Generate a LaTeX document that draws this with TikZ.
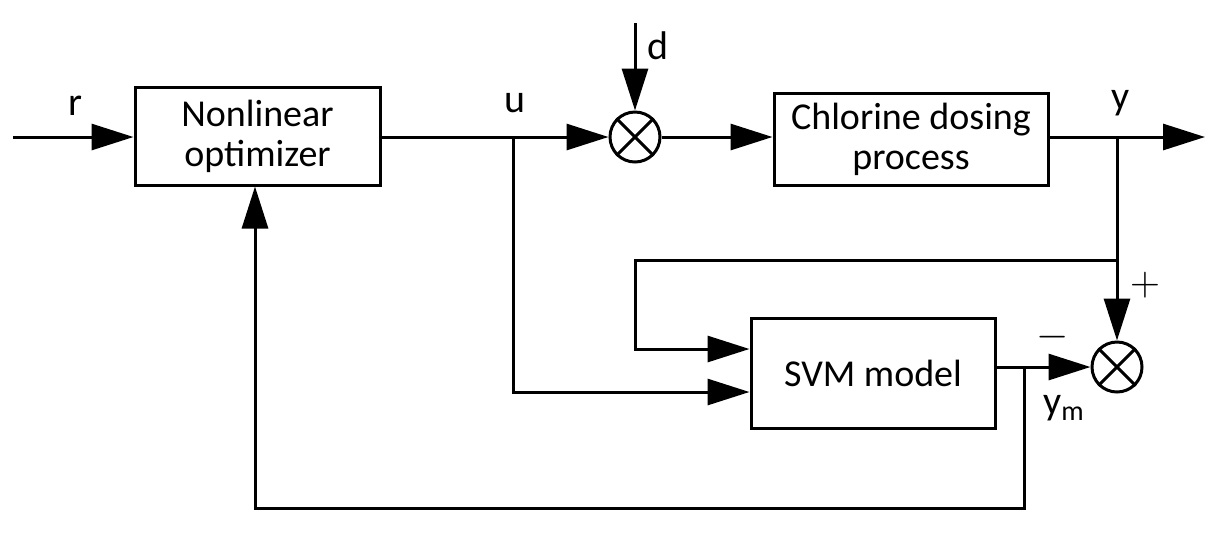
\documentclass[tikz,border=0pt]{standalone}
\usepackage{fontspec}
\setmainfont{Carlito}
\usetikzlibrary{arrows.meta,calc}
\begin{document}
\begin{tikzpicture}[x=0.5pt,y=-0.5pt,
  line width=1.5pt,
  blk/.style={draw,rectangle,align=center,inner sep=0pt,font=\fontsize{19}{19}\selectfont},
  sumj/.style={draw,circle,minimum size=25pt,inner sep=0pt},
  sig/.style={-{Triangle[length=21pt,width=13pt]}},
  lbl/.style={font=\fontsize{20}{20}\selectfont,inner sep=0pt},
  sgn/.style={inner sep=0pt,font=\fontsize{21}{21}\selectfont}
]
\useasboundingbox (0,0) rectangle (1221,538);
% blocks
\node[blk,minimum width=122.5pt,minimum height=49pt] (opt) at (257.5,136) {Nonlinear\\[1pt]optimizer};
\node[blk,minimum width=137pt,minimum height=46pt] (chl) at (911,139) {Chlorine dosing\\[1pt]process};
\node[blk,minimum width=122pt,minimum height=55pt] (svm) at (873,373) {SVM model};
% junctions
\node[sumj] (j1) at (635,137) {};
\node[sumj] (j2) at (1117,367) {};
\draw (j1.north west) -- (j1.south east) (j1.north east) -- (j1.south west);
\draw (j2.north west) -- (j2.south east) (j2.north east) -- (j2.south west);
% coordinates
\coordinate (rin) at (13,137);
\coordinate (din) at (635,23);
\coordinate (yout) at (1205,137);
\coordinate (ub) at (513,137);
\coordinate (yb) at (1117,137);
\coordinate (yb2) at (1117,260);
\coordinate (lp) at (635,260);
\coordinate (ymb) at (1024,367);
\coordinate (fb) at (1024,508);
\coordinate (fb2) at (255,508);
% connectors
\draw[sig] (rin) -- (opt.west |- rin);
\draw (opt.east |- ub) -- (ub);
\draw[sig] (ub) -- (j1.west);
\draw[sig] (din) -- (j1.north);
\draw[sig] (j1.east) -- (chl.west |- j1);
\draw (chl.east |- yb) -- (yb);
\draw[sig] (yb) -- (yout);
\draw (yb) -- (yb2);
\draw[sig] (yb2) -- (j2.north);
\draw[sig] (yb2) -- (lp) -- (lp |- 0,349) -- (svm.west |- 0,349);
\draw[sig] (ub) -- (ub |- 0,392) -- (svm.west |- 0,392);
\draw (svm.east |- j2) -- (ymb);
\draw[sig] (ymb) -- (j2.west);
\draw[sig] (ymb) -- (fb) -- (fb2) -- (opt.south -| fb2);
% labels
\node[lbl] (lr) at (75,106) {r};
\node[lbl] (lu) at (515,103) {u};
\node[lbl] (ld) at (658,46) {d};
\node[lbl] (ly) at (1121,103) {y};
\node[sgn] (lp1) at (1145,285) {$+$};
\node[sgn] (lm) at (1053,337) {$-$};
\node[lbl] (lym) at (1064,408) {y\textsubscript{m}};
\end{tikzpicture}
\end{document}
